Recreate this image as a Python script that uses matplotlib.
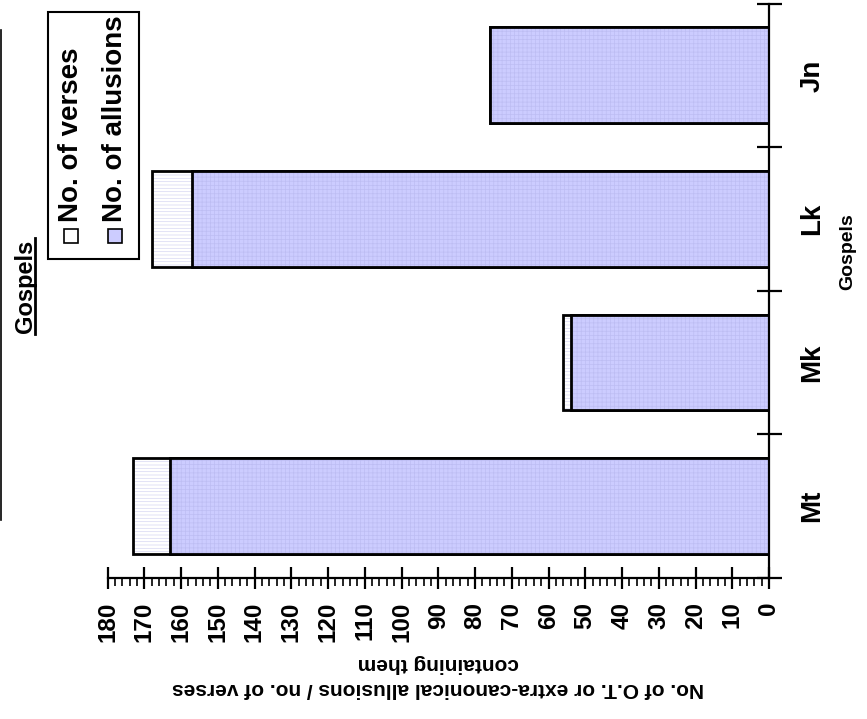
import matplotlib
matplotlib.use("Agg")
import matplotlib.pyplot as plt
from matplotlib.patches import Rectangle
from matplotlib.lines import Line2D
from matplotlib.ticker import MultipleLocator

plt.rcParams['font.family'] = ['Liberation Sans', 'DejaVu Sans']
plt.rcParams['font.weight'] = 'bold'
plt.rcParams['hatch.linewidth'] = 0.5

categories = ['Mt', 'Mk', 'Lk', 'Jn']
verses = [173, 56, 168, 76]
allusions = [163, 54, 157, 76]
value_ticks = list(range(0, 181, 10))

W, H = 867, 719


def fx(px):
    return px / W


def fy(py):
    return 1 - py / H


fig = plt.figure(figsize=(W / 100, H / 100), dpi=100)
ax = fig.add_axes([fx(107.5), fy(578), (769 - 107.5) / W, (578 - 3.5) / H])

pos = list(range(len(categories)))
bar_h = 0.667

# verses behind, allusions in front; fill texture drawn separately from the outline
ax.barh(pos, verses, height=bar_h, color='white', hatch='-----',
        edgecolor='#d6d6f2', linewidth=0, zorder=2)
ax.barh(pos, verses, height=bar_h, fill=False, edgecolor='black',
        linewidth=2, zorder=3)
ax.barh(pos, allusions, height=bar_h, color='#ccccff', hatch='++++',
        edgecolor='#bdbdf3', linewidth=0, zorder=4)
ax.barh(pos, allusions, height=bar_h, fill=False, edgecolor='black',
        linewidth=2, zorder=5)

ax.set_xlim(180, 0)
ax.set_ylim(-0.5, len(categories) - 0.5)

for side in ('top', 'left'):
    ax.spines[side].set_visible(False)
for side in ('right', 'bottom'):
    ax.spines[side].set_linewidth(1.6)
    ax.spines[side].set_zorder(6)

# value axis
ax.set_xticks(value_ticks)
ax.set_xticklabels([str(v) for v in value_ticks], rotation=90, fontsize=17.5,
                   fontweight='bold')
ax.xaxis.set_minor_locator(MultipleLocator(2))
ax.tick_params(axis='x', which='major', direction='inout', length=16,
               width=1.6, pad=9)
ax.tick_params(axis='x', which='minor', direction='out', length=6, width=1.2)
ax.set_xlabel('No. of O.T. or extra-canonical allusions / no. of verses\n'
              'containing them', rotation=180, fontsize=15, fontweight='bold',
              labelpad=9, linespacing=1.35)

# category axis on the right, ticks between categories
ax.yaxis.tick_right()
ax.set_yticks([p - 0.5 for p in pos] + [pos[-1] + 0.5])
ax.set_yticklabels([])
ax.set_yticks(pos, minor=True)
ax.set_yticklabels(categories, minor=True, rotation=90, fontsize=20,
                   fontweight='bold', va='center')
ax.tick_params(axis='y', which='major', direction='inout', length=18,
               width=1.6, left=False, right=True)
ax.tick_params(axis='y', which='minor', length=0, pad=22, left=False,
               right=True)

fig.text(fx(848), fy(252), 'Gospels', rotation=90, fontsize=14,
         fontweight='bold', ha='center', va='center')

# title with underline
fig.text(fx(26), fy(286), 'Gospels', rotation=90, fontsize=17,
         fontweight='bold', ha='center', va='center')
fig.add_artist(Line2D([fx(35), fx(35)], [fy(238), fy(334)], color='black',
                      linewidth=2, transform=fig.transFigure))
fig.add_artist(Line2D([fx(1), fx(1)], [fy(30), fy(520)], color='black',
                      linewidth=1.2, transform=fig.transFigure))

# legend box
fig.add_artist(Rectangle((fx(48), fy(259)), fx(139) - fx(48), fy(12) - fy(259),
                         fill=False, edgecolor='black', linewidth=1.5,
                         transform=fig.transFigure))
legend_items = [('No. of verses', 'white', 71),
                ('No. of allusions', '#ccccff', 115)]
for label, colour, xc in legend_items:
    fig.add_artist(Rectangle((fx(xc - 7), fy(243)), 14 / W, 14 / H,
                             facecolor=colour, edgecolor='black',
                             linewidth=1.2, transform=fig.transFigure))
    fig.text(fx(xc), fy(222), label, rotation=90, fontsize=20,
             fontweight='bold', ha='center', va='bottom')

fig.savefig('out.png', dpi=100)
